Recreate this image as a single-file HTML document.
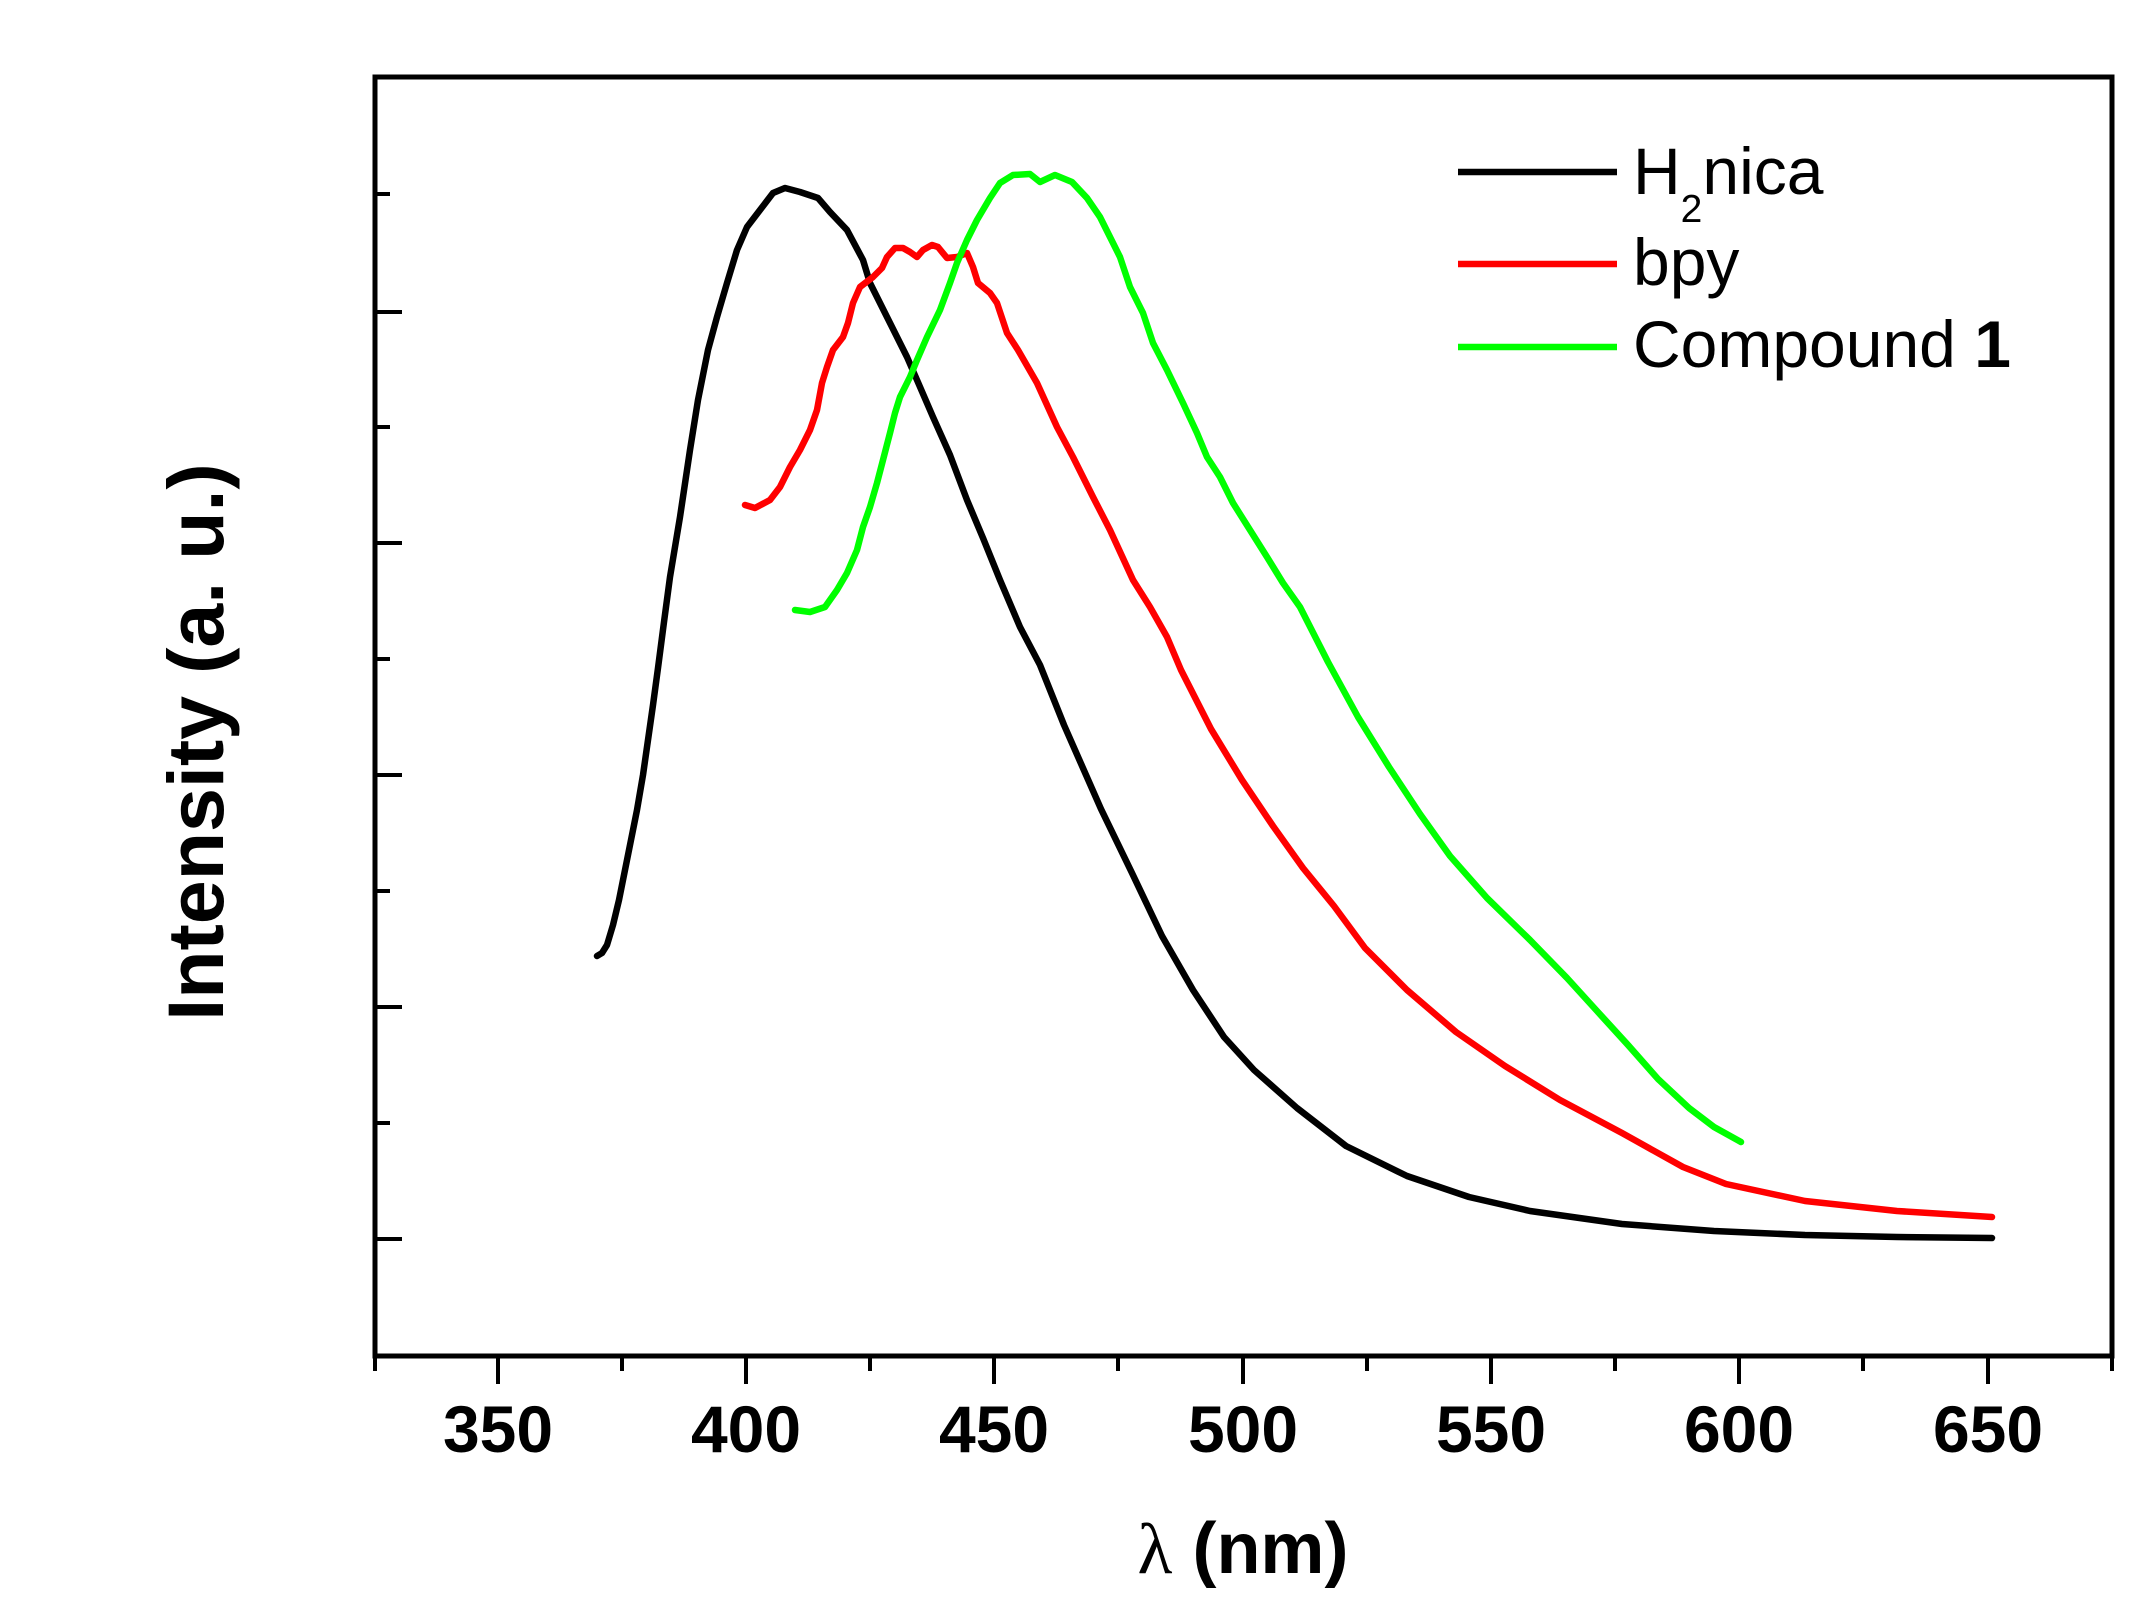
<!DOCTYPE html>
<html>
<head>
<meta charset="utf-8">
<style>
  html, body { margin:0; padding:0; background:#ffffff; }
  body { width:2144px; height:1610px; overflow:hidden; }
  svg { display:block; }
  text { font-family: "Liberation Sans", Arial, sans-serif; fill:#000; }
</style>
</head>
<body>
<svg width="2144" height="1610" viewBox="0 0 2144 1610" xmlns="http://www.w3.org/2000/svg">
  <rect x="0" y="0" width="2144" height="1610" fill="#ffffff"/>

  <!-- Frame -->
  <rect x="375" y="77" width="1737" height="1279" fill="none" stroke="#000" stroke-width="5"/>

  <!-- Y ticks (inward) -->
  <g stroke="#000" stroke-width="4">
    <line x1="375" y1="1239" x2="402" y2="1239"/>
    <line x1="375" y1="1007" x2="402" y2="1007"/>
    <line x1="375" y1="775" x2="402" y2="775"/>
    <line x1="375" y1="543" x2="402" y2="543"/>
    <line x1="375" y1="312" x2="402" y2="312"/>
    <line x1="375" y1="1123" x2="390" y2="1123"/>
    <line x1="375" y1="891" x2="390" y2="891"/>
    <line x1="375" y1="659" x2="390" y2="659"/>
    <line x1="375" y1="427" x2="390" y2="427"/>
    <line x1="375" y1="194" x2="390" y2="194"/>
  </g>

  <!-- X ticks (outward) -->
  <g stroke="#000" stroke-width="4">
    <line x1="498" y1="1356" x2="498" y2="1384"/>
    <line x1="746" y1="1356" x2="746" y2="1384"/>
    <line x1="994" y1="1356" x2="994" y2="1384"/>
    <line x1="1243" y1="1356" x2="1243" y2="1384"/>
    <line x1="1491" y1="1356" x2="1491" y2="1384"/>
    <line x1="1739" y1="1356" x2="1739" y2="1384"/>
    <line x1="1988" y1="1356" x2="1988" y2="1384"/>
    <line x1="375" y1="1356" x2="375" y2="1371"/>
    <line x1="622" y1="1356" x2="622" y2="1371"/>
    <line x1="870" y1="1356" x2="870" y2="1371"/>
    <line x1="1118" y1="1356" x2="1118" y2="1371"/>
    <line x1="1367" y1="1356" x2="1367" y2="1371"/>
    <line x1="1615" y1="1356" x2="1615" y2="1371"/>
    <line x1="1863" y1="1356" x2="1863" y2="1371"/>
    <line x1="2112" y1="1356" x2="2112" y2="1371"/>
  </g>

  <!-- X tick labels -->
  <g font-size="66" font-weight="bold" text-anchor="middle">
    <text x="498" y="1452">350</text>
    <text x="746" y="1452">400</text>
    <text x="994" y="1452">450</text>
    <text x="1243" y="1452">500</text>
    <text x="1491" y="1452">550</text>
    <text x="1739" y="1452">600</text>
    <text x="1988" y="1452">650</text>
  </g>

  <!-- Axis titles -->
  <text x="1243" y="1573" font-size="72" font-weight="bold" text-anchor="middle"><tspan font-family="Liberation Serif, serif" font-weight="normal">λ</tspan> (nm)</text>
  <text transform="translate(223,742) rotate(-90)" font-size="79" font-weight="bold" text-anchor="middle">Intensity (a. u.)</text>

  <!-- Curves -->
  <g fill="none" stroke-width="6.5" stroke-linejoin="round" stroke-linecap="round">
    <polyline stroke="#000000" points="597,956 602,953 607,945 613,925 619,900 625,870 631,840 637,810 643,775 648,740 653,705 658,668 664,622 670,577 680,517 690,450 698,400 708,350 717,317 727,283 737,250 747,227 760,210 773,193 785,188 800,192 818,198 830,212 847,230 863,260 870,283 887,317 907,357 917,380 933,417 950,455 967,500 983,538 1000,580 1020,627 1040,665 1064,725 1101,809 1132,873 1162,936 1193,990 1224,1037 1254,1070 1297,1108 1346,1146 1407,1176 1469,1197 1530,1211 1622,1224 1714,1231 1805,1235 1897,1237 1992,1238"/>
    <polyline stroke="#ff0000" points="745,505 755,508 770,500 780,487 790,467 800,450 810,430 817,410 822,383 827,367 833,350 843,337 848,323 853,303 860,287 873,277 882,268 887,257 895,248 903,248 910,252 917,257 923,250 932,245 938,247 947,258 957,257 967,253 973,267 978,283 990,293 997,303 1007,333 1018,350 1037,383 1057,427 1073,457 1093,497 1110,530 1133,580 1150,607 1167,637 1181,670 1211,729 1242,780 1273,826 1303,868 1334,906 1365,948 1407,990 1456,1032 1505,1066 1560,1100 1622,1133 1683,1167 1726,1184 1805,1201 1897,1211 1992,1217"/>
    <polyline stroke="#00ff00" points="795,610 810,612 825,607 837,590 847,573 857,550 863,527 870,507 877,483 883,460 890,433 895,413 900,397 910,377 917,360 927,337 940,310 950,283 957,263 967,240 977,220 990,198 1000,183 1013,175 1030,174 1040,182 1055,175 1072,182 1087,198 1100,217 1110,237 1120,257 1130,287 1143,313 1153,343 1167,370 1183,403 1197,433 1207,457 1220,477 1233,503 1250,530 1267,557 1283,583 1300,607 1328,662 1358,717 1389,767 1420,814 1450,856 1487,898 1530,940 1567,978 1597,1011 1628,1045 1658,1079 1689,1108 1714,1127 1741,1142"/>
  </g>

  <!-- Legend -->
  <g stroke-width="6.5">
    <line x1="1458" y1="172" x2="1617" y2="172" stroke="#000000"/>
    <line x1="1458" y1="264" x2="1617" y2="264" stroke="#ff0000"/>
    <line x1="1458" y1="347" x2="1617" y2="347" stroke="#00ff00"/>
  </g>
  <g font-size="66">
    <text x="1633" y="194">H<tspan font-size="39" dy="28">2</tspan><tspan dy="-28">nica</tspan></text>
    <text x="1633" y="285">bpy</text>
    <text x="1633" y="367">Compound <tspan font-weight="bold">1</tspan></text>
  </g>
</svg>
</body>
</html>
